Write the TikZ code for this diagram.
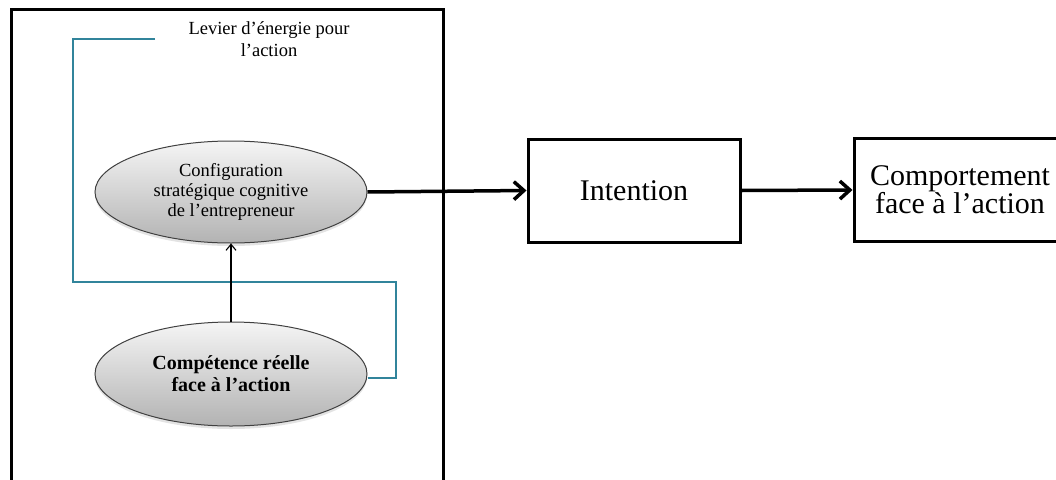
\documentclass[tikz,border=0pt]{standalone}
\usepackage{fontspec}
\setmainfont{Liberation Serif}
\usetikzlibrary{arrows.meta,shapes.geometric,shadows}
\definecolor{leverline}{RGB}{49,132,155}
\tikzset{
  frame/.style={draw=black, line width=3pt},
  bubble/.style={ellipse, draw=black!75, line width=1pt,
    minimum width=272pt, minimum height=102pt, inner sep=0pt,
    top color=black!4, bottom color=black!30,
    drop shadow={opacity=0.22, shadow xshift=0pt, shadow yshift=-3pt},
    align=center},
  stage/.style={draw=black, line width=3pt, minimum width=212pt,
    minimum height=103pt, inner sep=0pt, align=center},
  flow/.style={line width=3.5pt,
    -{Straight Barb[length=10pt,width=18pt,line width=3.5pt]}},
  link/.style={line width=1.1pt, -{Straight Barb[length=6pt,width=10pt]}},
  lever/.style={draw=leverline, line width=1.2pt},
}
\begin{document}
\begin{tikzpicture}[x=1pt,y=-1pt]
\useasboundingbox (0,0) rectangle (1056,479);
\clip (0,0) rectangle (1056,479);
% open-bottomed frame around the left group
\draw[frame] (11,9) rectangle (443,500);
\node[font=\fontsize{18.5}{22}\selectfont, align=center] (lbl) at (269,39)
  {Levier d'énergie pour\\l'action};
\coordinate (lv) at (155,39);
% the two ellipses
\node[bubble, font=\fontsize{18.5}{20}\selectfont] (cfg) at (231,192)
  {Configuration\\stratégique cognitive\\de l'entrepreneur};
\node[bubble, minimum height=104pt, font=\bfseries\fontsize{20}{22}\selectfont] (cmp) at (231,374)
  {Compétence réelle\\face à l'action};
% boxes on the right
\node[stage, font=\fontsize{30}{30}\selectfont] (int) at (634,190.5) {Intention};
\node[stage, font=\fontsize{30}{28}\selectfont] (beh) at (960,190) {Comportement\\face à l'action};
% lever loop
\draw[lever] (lv) -- (73,39) -- (73,282) -- (396,282) |- ([yshift=-4pt]cmp.east);
% connectors
\draw[link] (cmp.north) -- (cfg.south);
\draw[flow] (cfg.east) -- (int.west);
\draw[flow] (int.east) -- (beh.west);
\end{tikzpicture}
\end{document}
